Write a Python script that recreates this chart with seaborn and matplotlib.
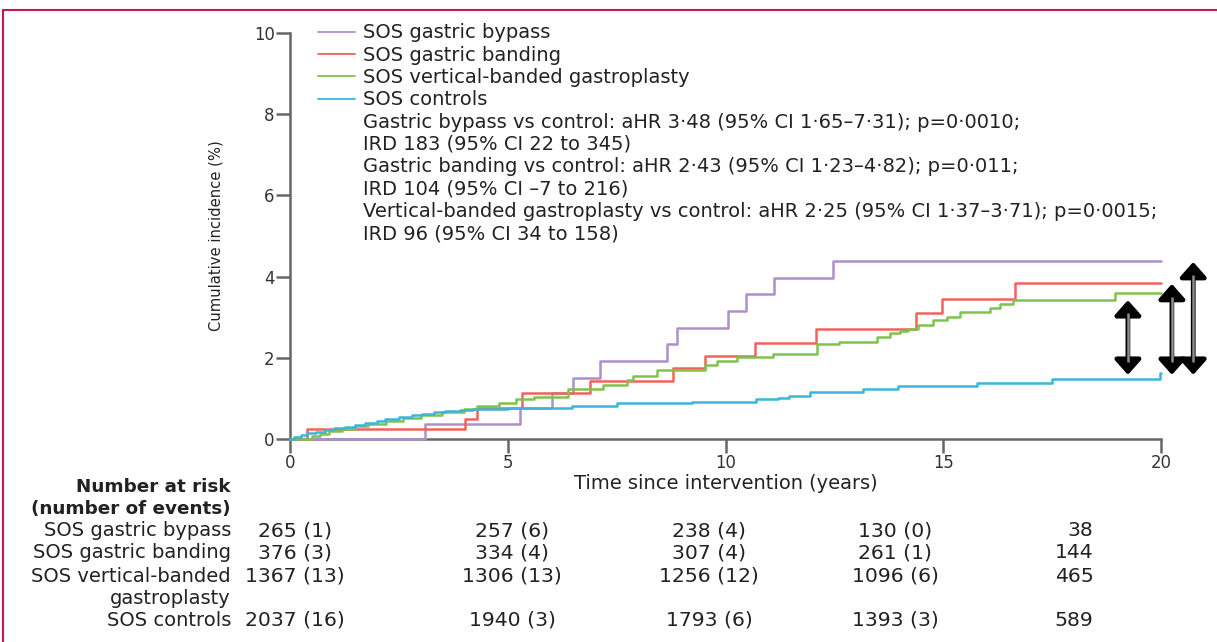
import numpy as np
import pandas as pd
import matplotlib
matplotlib.use("Agg")
import matplotlib.pyplot as plt
import matplotlib.transforms as mtrans
from matplotlib.lines import Line2D
from matplotlib.patches import Rectangle
import seaborn as sns

# ---------------- data ----------------
groups = ["SOS gastric bypass", "SOS gastric banding",
          "SOS vertical-banded gastroplasty", "SOS controls"]
colors = ["#ac90cc", "#f2625c", "#7fc24e", "#3cb6d8"]

bypass_t = [0, 3.1, 5.28, 6.02, 6.5, 7.12, 8.66, 8.89, 10.06, 10.47, 11.11, 12.47, 20]
bypass_v = [0, 0.37, 0.76, 1.13, 1.50, 1.92, 2.34, 2.73, 3.15, 3.57, 3.97, 4.38, 4.38]

banding_t = [0, 0.39, 4.02, 4.29, 5.33, 6.89, 8.79, 9.53, 10.68, 12.08, 14.37, 14.97, 16.65, 20]
banding_v = [0, 0.25, 0.49, 0.76, 1.13, 1.43, 1.74, 2.05, 2.36, 2.71, 3.10, 3.45, 3.84, 3.84]

vbg_t = [0, 0.5, 0.7, 0.9, 1.2, 1.5, 1.8, 2.2, 2.6, 3.0, 3.5, 4.0, 4.3, 4.8, 5.2, 5.6,
         6.38, 7.19, 7.73, 7.88, 8.42, 9.53, 9.8, 10.26, 11.1, 12.1, 12.6, 13.48, 13.78,
         14.0, 14.2, 14.42, 14.77, 15.08, 15.38, 16.07, 16.3, 16.6, 18.94, 20]
vbg_v = [0, 0.07, 0.13, 0.2, 0.25, 0.32, 0.38, 0.45, 0.52, 0.6, 0.66, 0.74, 0.81, 0.89, 0.98, 1.03,
         1.23, 1.33, 1.45, 1.55, 1.70, 1.82, 1.92, 2.02, 2.09, 2.34, 2.38, 2.51, 2.61,
         2.65, 2.72, 2.81, 2.93, 3.0, 3.13, 3.22, 3.32, 3.42, 3.59, 3.59]

ctrl_t = [0, 0.1, 0.25, 0.4, 0.6, 0.8, 1.0, 1.26, 1.5, 1.72, 2.0, 2.18, 2.5, 2.8, 3.03, 3.3,
          3.56, 3.9, 4.2, 4.6, 5.0, 6.48, 7.5, 9.23, 10.7, 11.2, 11.45, 11.95, 13.16, 13.97,
          15.77, 17.5, 19.98, 20]
ctrl_v = [0, 0.05, 0.1, 0.15, 0.18, 0.22, 0.26, 0.30, 0.35, 0.39, 0.44, 0.49, 0.53, 0.58, 0.62, 0.66,
          0.70, 0.72, 0.74, 0.75, 0.76, 0.81, 0.88, 0.92, 0.98, 1.02, 1.06, 1.15, 1.22, 1.30,
          1.38, 1.47, 1.63, 1.63]

arrow_x = [19.24, 20.25, 20.74]
arrow_top = [3.42, 3.82, 4.36]
arrow_bottom = [1.58, 1.58, 1.58]

annotation_lines = [
    "Gastric bypass vs control: aHR 3·48 (95% CI 1·65–7·31); p=0·0010;",
    "IRD 183 (95% CI 22 to 345)",
    "Gastric banding vs control: aHR 2·43 (95% CI 1·23–4·82); p=0·011;",
    "IRD 104 (95% CI –7 to 216)",
    "Vertical-banded gastroplasty vs control: aHR 2·25 (95% CI 1·37–3·71); p=0·0015;",
    "IRD 96 (95% CI 34 to 158)",
]

x_ticks = [0, 5, 10, 15, 20]
y_ticks = [0, 2, 4, 6, 8, 10]

table_labels = ["SOS gastric bypass", "SOS gastric banding", "SOS vertical-banded",
                "gastroplasty", "SOS controls"]
risk_bypass = ["265 (1)", "257 (6)", "238 (4)", "130 (0)", "38"]
risk_banding = ["376 (3)", "334 (4)", "307 (4)", "261 (1)", "144"]
risk_vbg = ["1367 (13)", "1306 (13)", "1256 (12)", "1096 (6)", "465"]
risk_ctrl = ["2037 (16)", "1940 (3)", "1793 (6)", "1393 (3)", "589"]

# ---------------- figure ----------------
sns.set_theme(style="white")
FAM = ["DejaVu Sans"]
plt.rcParams["font.family"] = FAM

W, H = 1217, 642
fig = plt.figure(figsize=(W / 100, H / 100), dpi=100)
fig.patch.set_facecolor("white")
renderer = fig.canvas.get_renderer()


def text_size(s, size, weight="normal"):
    t = fig.text(0, 0, s, fontsize=size, fontweight=weight)
    bb = t.get_window_extent(renderer)
    t.remove()
    return bb


def fit(s, target_px, weight="normal"):
    w = text_size(s, 10, weight).width
    return 10 * target_px / w


fs_leg = fit(annotation_lines[4], 795)
fs_tab = fit("SOS vertical-banded", 200)
fs_bold = fit("(number of events)", 200, "bold")
fs_num = fs_tab * 1.04
fs_tick = fit("10", 21)
fs_xlab = fit("Time since intervention (years)", 302)
fs_ylab = fit("Cumulative incidence (%)", 190)

ax = fig.add_axes([290 / W, 1 - 439 / H, (1161 - 290) / W, (439 - 33) / H])

frames = []
for g, t, v in zip(groups, [bypass_t, banding_t, vbg_t, ctrl_t],
                   [bypass_v, banding_v, vbg_v, ctrl_v]):
    frames.append(pd.DataFrame({"time": t, "inc": v, "group": g}))
df = pd.concat(frames, ignore_index=True)

sns.lineplot(data=df, x="time", y="inc", hue="group", hue_order=groups,
             palette=colors, estimator=None, sort=False, drawstyle="steps-post",
             linewidth=1.8, legend=False, ax=ax)

ax.set_xlim(0, 20)
ax.set_ylim(0, 10)
ax.set_xticks(x_ticks)
ax.set_yticks(y_ticks)
ax.set_xticklabels([str(v) for v in x_ticks])
ax.set_yticklabels([str(v) for v in y_ticks])
spine_col = "#666666"
for s in ["top", "right"]:
    ax.spines[s].set_visible(False)
for s in ["left", "bottom"]:
    ax.spines[s].set_color(spine_col)
    ax.spines[s].set_linewidth(1.8)
ax.tick_params(axis="both", direction="out", length=10, width=1.8, color=spine_col,
               labelsize=fs_tick, labelcolor="#333333", pad=1, left=True, bottom=True)
ax.set_xlabel("Time since intervention (years)", fontsize=fs_xlab, color="#222222")
ax.set_ylabel("Cumulative incidence (%)", fontsize=fs_ylab, color="#222222")
ax.xaxis.set_label_coords(0.5, (439 - 474) / 406)
ax.yaxis.set_label_coords((213 - 290) / 871 + 0.012, 0.5)
for ln in ax.lines:
    ln.set_clip_on(False)
    ln.set_zorder(3)

# legend with annotation lines
fs_px = fs_leg * 100 / 72
h_txt = text_size("SOS gastric bypass", fs_leg).height
labelspacing = (22.3 - h_txt) / fs_px
handles = [Line2D([], [], color=c, lw=1.3) for c in colors] + \
          [Line2D([], [], lw=0) for _ in annotation_lines]
labels = groups + annotation_lines
leg = ax.legend(handles, labels, loc="upper left",
                bbox_to_anchor=((318 - 290) / 871, (439 - 33 + h_txt / 2) / 406),
                frameon=False, fontsize=fs_leg, handlelength=37 / fs_px,
                handletextpad=8 / fs_px, labelspacing=labelspacing,
                borderpad=0, borderaxespad=0)
for t in leg.get_texts():
    t.set_color("#222222")

# arrows
for x, top, bot in zip(arrow_x, arrow_top, arrow_bottom):
    ax.annotate("", xy=(x, top), xytext=(x, bot),
                arrowprops=dict(arrowstyle="<|-|>,head_length=0.45,head_width=0.4",
                                color="black", lw=3.4, shrinkA=0, shrinkB=0,
                                mutation_scale=20),
                annotation_clip=False)
    ax.plot([x, x], [bot + 0.32, top - 0.32], color="#8c8c8c", lw=1.8,
            clip_on=False, zorder=5, solid_capstyle="butt")

# number at risk table
txt_col = "#222222"
fig.text(231 / W, 1 - 487 / H, "Number at risk", ha="right", va="center",
         fontsize=fs_bold, fontweight="bold", color=txt_col)
fig.text(231 / W, 1 - 509 / H, "(number of events)", ha="right", va="center",
         fontsize=fs_bold, fontweight="bold", color=txt_col)
row_y = [531, 553, 576, 598, 620]
for lab, y in zip(table_labels, row_y):
    fig.text(231 / W, 1 - y / H, lab, ha="right", va="center", fontsize=fs_tab, color=txt_col)

blend = mtrans.blended_transform_factory(ax.transData, fig.transFigure)
col_x = [0.12, 5.1, 9.62, 13.9, 18.45]
col_ha = ["center", "center", "center", "center", "right"]
for vals, y in zip([risk_bypass, risk_banding, risk_vbg, risk_ctrl], [531, 553, 576, 620]):
    for v, cx, ha in zip(vals, col_x, col_ha):
        ax.text(cx, 1 - y / H, v, transform=blend, ha=ha, va="center",
                fontsize=fs_num, color=txt_col, clip_on=False)

# crimson frame
fig.add_artist(Rectangle((3 / W, -0.05), 1.2, (H - 10) / H + 0.05,
                         transform=fig.transFigure, fill=False,
                         edgecolor="#c8194c", lw=1.5))

fig.savefig("out.png", dpi=100)
